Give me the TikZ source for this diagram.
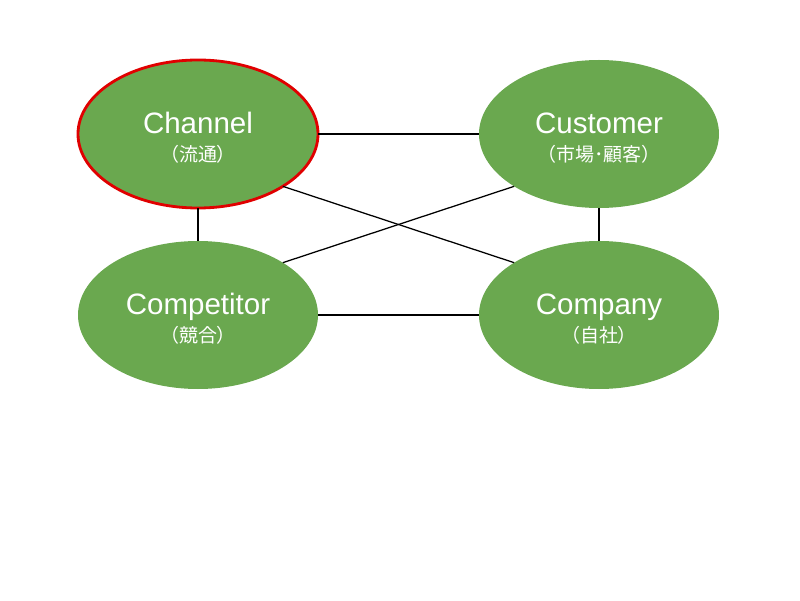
\documentclass[tikz,border=0pt]{standalone}
\usepackage{fontspec}
\setmainfont{Liberation Sans}
\newfontfamily\jpfont{Noto Sans CJK JP}
\usepackage{tikz}
\usetikzlibrary{shapes.geometric, positioning}
\definecolor{factorgreen}{HTML}{6AA84F}
\definecolor{focusred}{HTML}{E00000}
\newcommand{\jpline}[1]{{\jpfont\fontsize{13.5}{15}\selectfont #1}}

\begin{document}
\begin{tikzpicture}[factor/.style={
                ellipse,
                fill=factorgreen,
                text=white,
                minimum width=6cm,
                minimum height=3.7cm,
                inner sep=0pt,
                outer sep=0pt,
                align=center,
                font=\fontsize{21}{24}\selectfont,
        },
        link/.style={draw=black, line width=0.9pt}]
            \useasboundingbox (0, 0) rectangle (20, 15);
            \node[factor, draw=focusred, line width=2pt] (channel) at (4.95, 11.65) {\rule{0pt}{21pt}Channel\\[-4pt]\jpline{（流通）}};
            \node[factor] (customer) at (14.975, 11.65) {\rule{0pt}{21pt}Customer\\[-4pt]\jpline{（市場･顧客）}};
            \node[factor] (competitor) at (4.95, 7.125) {\rule{0pt}{21pt}Competitor\\[-4pt]\jpline{（競合）}};
            \node[factor] (company) at (14.975, 7.125) {\rule{0pt}{21pt}Company\\[-4pt]\jpline{（自社）}};
            \draw[link] (channel) -- (customer);
            \draw[link] (competitor) -- (company);
            \draw[link] (channel) -- (competitor);
            \draw[link] (customer) -- (company);
            \draw[link] (channel.south east) -- (company.north west);
            \draw[link] (customer.south west) -- (competitor.north east);
        \end{tikzpicture}
\end{document}
